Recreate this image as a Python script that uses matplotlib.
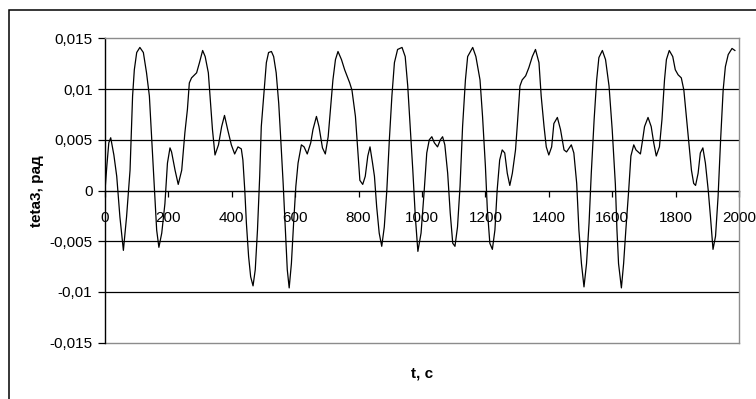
import matplotlib
matplotlib.use("Agg")
import matplotlib.pyplot as plt
from matplotlib.patches import Rectangle
from matplotlib.ticker import FixedLocator, FuncFormatter

plt.rcParams["font.family"] = ["Liberation Sans", "DejaVu Sans"]
plt.rcParams["axes.unicode_minus"] = False

# time, s
t = [0, 6, 12, 18, 28, 37, 47, 58, 68, 79, 87, 92.5, 100, 110, 121, 131, 140, 147, 156, 163,
     170, 179, 189, 197, 205, 210, 221, 231, 242, 252, 260, 266, 273, 289, 298, 308, 316, 326,
     333, 339, 347, 358, 368, 377, 387, 398.5, 409, 419.5, 430, 435, 441, 446, 453, 459.5, 467,
     474, 481, 488, 493, 502, 509, 516, 525, 532, 540, 548, 554, 562, 569, 575, 581, 588, 595,
     602, 609, 619.5, 628, 638, 649, 656, 667, 675, 686, 695, 704, 712, 719, 727, 735, 746, 756,
     772, 779, 790, 797, 804, 813, 821, 829, 836, 844, 850, 857, 865, 873, 881, 889, 897, 905,
     913, 923, 937, 947, 955, 962, 971, 979, 987, 997, 1007, 1015, 1023, 1031, 1039, 1049, 1058,
     1065, 1072, 1081, 1089, 1097, 1104, 1112, 1120, 1128, 1137, 1144, 1160, 1170, 1183, 1191,
     1200, 1206, 1214, 1222, 1230, 1237, 1245, 1253, 1261, 1269, 1277, 1285, 1295, 1301, 1309,
     1316, 1327, 1337, 1348, 1358, 1369, 1376, 1385, 1392, 1400, 1409, 1416, 1427, 1437, 1448,
     1456, 1471, 1479, 1488, 1495, 1503, 1511, 1519, 1527, 1534, 1543, 1551, 1558, 1569, 1579,
     1590, 1600, 1610, 1615, 1620, 1629, 1636, 1643, 1652, 1659, 1668, 1675, 1689, 1696, 1702,
     1713, 1723, 1731, 1739, 1749, 1757, 1765, 1771, 1780, 1791, 1799, 1808, 1818, 1826, 1833,
     1841, 1850, 1857, 1863, 1871, 1878, 1886, 1894, 1903, 1910, 1918, 1926, 1934, 1942, 1950,
     1957, 1966, 1978, 1987]

# angle teta3, rad
teta3 = [0.0, 0.0025, 0.0047, 0.0052, 0.0035, 0.0014, -0.0026, -0.0059, -0.0026, 0.0020,
         0.0093, 0.0119, 0.0136, 0.0141, 0.0136, 0.0116, 0.0093, 0.0053, 0.0000, -0.0039,
         -0.0056, -0.0042, -0.0013, 0.0027, 0.0042, 0.0038, 0.0020, 0.0006, 0.0020, 0.0057,
         0.0080, 0.0106, 0.0111, 0.0116, 0.0126, 0.0138, 0.0132, 0.0116, 0.0086, 0.0060,
         0.0035, 0.0045, 0.0063, 0.0074, 0.0060, 0.0045, 0.0036, 0.0043, 0.0041, 0.0030,
         0.0000, -0.0032, -0.0065, -0.0085, -0.0094, -0.0078, -0.0039, 0.0014, 0.0063, 0.0099,
         0.0126, 0.0136, 0.0137, 0.0132, 0.0116, 0.0086, 0.0053, 0.0007, -0.0039, -0.0078,
         -0.0096, -0.0072, -0.0032, 0.0004, 0.0027, 0.0045, 0.0043, 0.0036, 0.0047, 0.0060,
         0.0073, 0.0063, 0.0042, 0.0036, 0.0053, 0.0083, 0.0109, 0.0129, 0.0137, 0.0129,
         0.0119, 0.0106, 0.0099, 0.0073, 0.0042, 0.0010, 0.0006, 0.0014, 0.0034, 0.0043,
         0.0027, 0.0014, -0.0016, -0.0042, -0.0055, -0.0036, 0.0000, 0.0050, 0.0093, 0.0126,
         0.0139, 0.0141, 0.0132, 0.0103, 0.0066, 0.0020, -0.0026, -0.0060, -0.0042, 0.0000,
         0.0037, 0.0050, 0.0053, 0.0047, 0.0043, 0.0050, 0.0053, 0.0045, 0.0017, -0.0022,
         -0.0052, -0.0055, -0.0036, 0.0004, 0.0063, 0.0109, 0.0132, 0.0141, 0.0132, 0.0109,
         0.0073, 0.0024, -0.0018, -0.0052, -0.0058, -0.0039, 0.0000, 0.0030, 0.0040, 0.0037,
         0.0017, 0.0005, 0.0017, 0.0040, 0.0066, 0.0103, 0.0109, 0.0113, 0.0121, 0.0132,
         0.0139, 0.0126, 0.0093, 0.0063, 0.0043, 0.0035, 0.0043, 0.0066, 0.0072, 0.0060,
         0.0040, 0.0038, 0.0045, 0.0037, 0.0007, -0.0039, -0.0072, -0.0095, -0.0072, -0.0032,
         0.0017, 0.0070, 0.0109, 0.0131, 0.0138, 0.0129, 0.0103, 0.0060, 0.0006, -0.0039,
         -0.0072, -0.0096, -0.0072, -0.0039, 0.0000, 0.0034, 0.0045, 0.0040, 0.0036, 0.0050,
         0.0063, 0.0072, 0.0063, 0.0047, 0.0034, 0.0043, 0.0070, 0.0109, 0.0129, 0.0138,
         0.0132, 0.0119, 0.0114, 0.0111, 0.0099, 0.0076, 0.0050, 0.0020, 0.0007, 0.0005,
         0.0017, 0.0037, 0.0042, 0.0027, 0.0000, -0.0026, -0.0058, -0.0045, -0.0006, 0.0050,
         0.0099, 0.0122, 0.0134, 0.0140, 0.0138]

x_ticks = [0, 200, 400, 600, 800, 1000, 1200, 1400, 1600, 1800, 2000]
y_ticks = [-0.015, -0.01, -0.005, 0, 0.005, 0.01, 0.015]
y_grid = [-0.01, -0.005, 0.005, 0.01]

W, H = 756, 399
fig = plt.figure(figsize=(W / 100, H / 100), dpi=100)

# outer chart frame (runs off the right and bottom edges)
fig.patches.append(Rectangle((9 / W, -0.05), 1.2, 1 - 10 / H + 0.05,
                             transform=fig.transFigure, fill=False,
                             edgecolor="black", linewidth=1.1, zorder=0))

left, right = 105 / W, 739 / W
bottom, top = 1 - 342.7 / H, 1 - 38.3 / H
ax = fig.add_axes([left, bottom, right - left, top - bottom])

ax.set_xlim(0, 2000)
ax.set_ylim(-0.015, 0.015)

for g in y_grid:
    ax.axhline(g, color="black", linewidth=0.9, zorder=1)

ax.plot(t, teta3, color="black", linewidth=0.9, zorder=3)

# plot-area border grey, y axis black, x axis crossing at zero
for side in ("top", "right"):
    ax.spines[side].set_color("#8c8c8c")
    ax.spines[side].set_linewidth(1.0)
ax.axhline(-0.015, color="#8c8c8c", linewidth=1.0, zorder=1, clip_on=False)
ax.spines["left"].set_color("black")
ax.spines["left"].set_linewidth(1.0)
ax.spines["bottom"].set_position(("data", 0))
ax.spines["bottom"].set_color("black")
ax.spines["bottom"].set_linewidth(1.0)
ax.spines["bottom"].set_zorder(2)

ax.xaxis.set_major_locator(FixedLocator(x_ticks))
ax.tick_params(axis="x", direction="out", length=4, width=0.9, color="black",
               pad=11, labelsize=11)

def comma_fmt(v, pos=None):
    if abs(v) < 1e-12:
        return "0"
    s = ("%.3f" % v).rstrip("0").rstrip(".")
    return s.replace(".", ",")

ax.yaxis.set_major_locator(FixedLocator(y_ticks))
ax.yaxis.set_major_formatter(FuncFormatter(comma_fmt))
ax.tick_params(axis="y", direction="out", length=5, width=0.9, pad=4, labelsize=11)

fig.text(37 / W, 1 - 191 / H, "teta3, рад", rotation=90, ha="center", va="center",
         fontsize=11, fontweight="bold")
fig.text(422 / W, 1 - 373 / H, "t, с", ha="center", va="center",
         fontsize=11, fontweight="bold")

fig.savefig("out.png", dpi=100)
